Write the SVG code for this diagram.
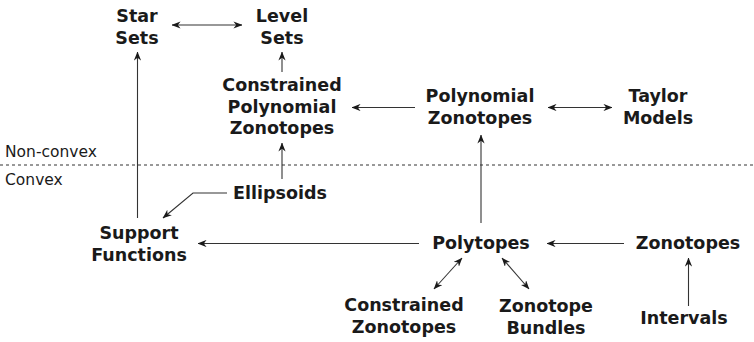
<svg xmlns="http://www.w3.org/2000/svg" width="754" height="342" viewBox="0 0 754 342">
<style>
.n{font-family:"DejaVu Sans",sans-serif;font-weight:bold;font-size:17.5px;fill:#1a1a1a;text-anchor:middle}
.r{font-family:"DejaVu Sans",sans-serif;font-size:15.5px;fill:#1a1a1a}
.c{fill:none;stroke:#333;stroke-width:1.1}
</style>
<defs>
<marker id="a" viewBox="0 0 10 8" markerWidth="9" markerHeight="7.2" refX="9.5" refY="4" orient="auto-start-reverse" markerUnits="userSpaceOnUse">
<path d="M0,0 L10,4 L0,8 L3,4 z" fill="#1a1a1a"/>
</marker>
</defs>
<rect width="754" height="342" fill="#fff"/>
<g id="region-labels">
<text class="r" x="5" y="157">Non-convex</text>
<line x1="0" y1="165" x2="754" y2="165" stroke="#333" stroke-width="1" stroke-dasharray="3,3"/>
<text class="r" x="5" y="185">Convex</text>
</g>
<g id="connectors">
<line class="c" x1="172" y1="25" x2="242" y2="25" marker-start="url(#a)" marker-end="url(#a)"/>
<line class="c" x1="282" y1="72" x2="282" y2="52" marker-end="url(#a)"/>
<line class="c" x1="137.5" y1="218" x2="137.5" y2="52" marker-end="url(#a)"/>
<line class="c" x1="415" y1="107.5" x2="352" y2="107.5" marker-end="url(#a)"/>
<line class="c" x1="548" y1="107.5" x2="612" y2="107.5" marker-start="url(#a)" marker-end="url(#a)"/>
<line class="c" x1="481" y1="223" x2="481" y2="135" marker-end="url(#a)"/>
<line class="c" x1="282" y1="179" x2="282" y2="143" marker-end="url(#a)"/>
<polyline class="c" points="227,193 193,193 163,218" marker-end="url(#a)"/>
<line class="c" x1="419" y1="243.5" x2="198" y2="243.5" marker-end="url(#a)"/>
<line class="c" x1="624" y1="243.5" x2="547" y2="243.5" marker-end="url(#a)"/>
<line class="c" x1="462" y1="258" x2="434" y2="289" marker-start="url(#a)" marker-end="url(#a)"/>
<line class="c" x1="502" y1="258" x2="529" y2="289" marker-start="url(#a)" marker-end="url(#a)"/>
<line class="c" x1="688.5" y1="306" x2="688.5" y2="258" marker-end="url(#a)"/>
</g>
<g id="star-sets"><text class="n" x="137" y="22">Star</text><text class="n" x="137" y="43.5">Sets</text></g>
<g id="level-sets"><text class="n" x="282" y="22">Level</text><text class="n" x="282" y="43.5">Sets</text></g>
<g id="constrained-polynomial-zonotopes"><text class="n" x="282" y="91">Constrained</text><text class="n" x="282" y="112.5">Polynomial</text><text class="n" x="282" y="134">Zonotopes</text></g>
<g id="polynomial-zonotopes"><text class="n" x="480" y="102">Polynomial</text><text class="n" x="480" y="123.5">Zonotopes</text></g>
<g id="taylor-models"><text class="n" x="658" y="102">Taylor</text><text class="n" x="658" y="123.5">Models</text></g>
<g id="ellipsoids"><text class="n" x="280" y="199">Ellipsoids</text></g>
<g id="support-functions"><text class="n" x="139" y="239">Support</text><text class="n" x="139" y="260.5">Functions</text></g>
<g id="polytopes"><text class="n" x="481" y="249">Polytopes</text></g>
<g id="zonotopes"><text class="n" x="688" y="249">Zonotopes</text></g>
<g id="constrained-zonotopes"><text class="n" x="404" y="311">Constrained</text><text class="n" x="404" y="332.5">Zonotopes</text></g>
<g id="zonotope-bundles"><text class="n" x="546" y="312">Zonotope</text><text class="n" x="546" y="333.5">Bundles</text></g>
<g id="intervals"><text class="n" x="684" y="324">Intervals</text></g>
</svg>
